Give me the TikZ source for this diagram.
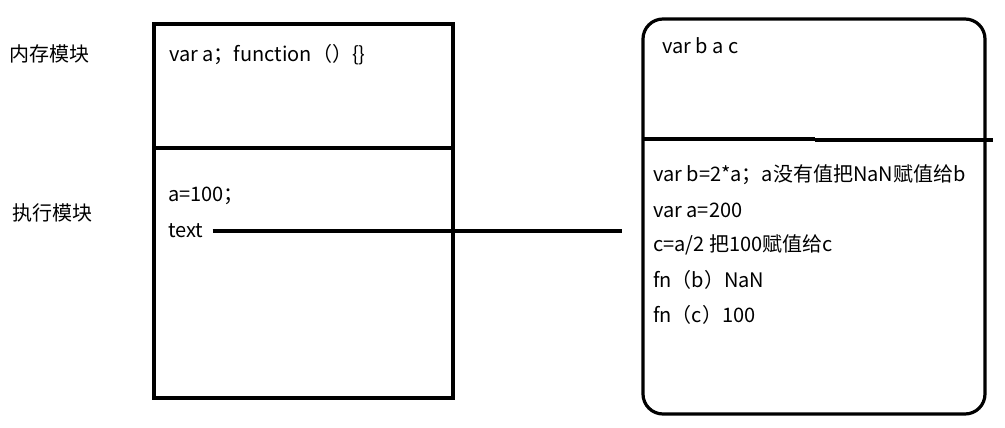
\documentclass[tikz,border=0pt]{standalone}
\usepackage{fontspec}
\setmainfont{Noto Sans CJK SC}
\begin{document}
\begin{tikzpicture}[x=1pt,y=-1pt,
  box/.style={line width=3.2pt},
  lbl/.style={anchor=west,inner sep=0pt,font=\fontsize{20}{22}\selectfont},
  conn/.style={line width=3.2pt}]
\useasboundingbox (0,0) rectangle (1005,428);
% left box
\draw[box] (154,24) rectangle (453,398);
\draw[box] (154,148) -- (451,148);
% right box
\draw[box,rounded corners=20pt] (643,19) rectangle (985,414);
\draw[box] (643,139) -- (815,139);
\draw[box] (815,140) -- (993,140);
% side labels
\node[lbl] (mem) at (9,54) {内存模块};
\node[lbl] (exe) at (12,213) {执行模块};
% left texts
\node[lbl] (l1) at (169,55) {var a；function（）\{\}};
\node[lbl] (l2) at (168,196) {a=100；};
\node[lbl] (l3) at (168,231) {text};
% right texts
\node[lbl] (r0) at (662,46) {var b a c};
\node[lbl] (r1) at (653,175) {var b=2*a；a没有值把NaN赋值给b};
\node[lbl] (r2) at (653,210) {var a=200};
\node[lbl] (r3) at (653,245) {c=a/2 把100赋值给c};
\node[lbl] (r4) at (653,280) {fn（b）NaN};
\node[lbl] (r5) at (653,315) {fn（c）100};
\coordinate (lineend) at (622,231);
\draw[conn] ([xshift=9pt]l3.east) -- (lineend);
\end{tikzpicture}
\end{document}
